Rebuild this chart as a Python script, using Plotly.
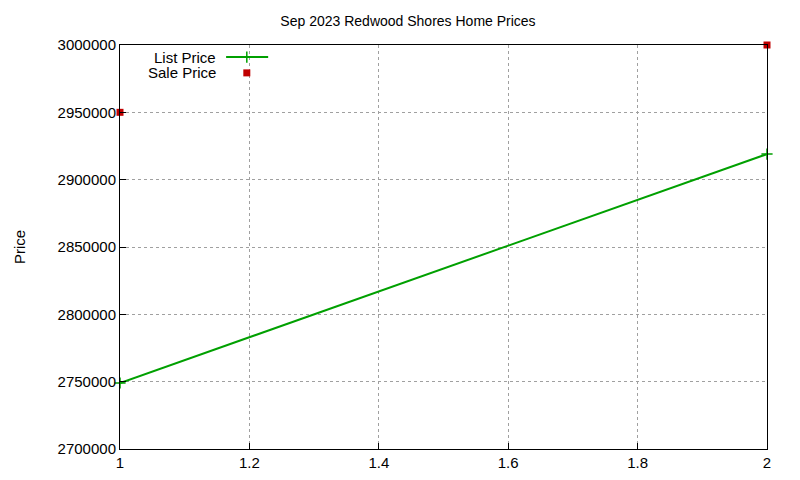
import plotly.graph_objects as go

x_vals = [1, 2]
list_price = [2749000, 2919000]
sale_price = [2950000, 3000000]
title = "Sep 2023 Redwood Shores Home Prices"

fig = go.Figure()
fig.add_trace(go.Scatter(x=x_vals, y=list_price, mode="lines+markers", name="List Price",
                         line=dict(color="#00a000", width=2),
                         marker=dict(symbol="cross-thin", size=8, line=dict(color="#00a000", width=1.5)),
                         cliponaxis=False, showlegend=False))
fig.add_trace(go.Scatter(x=x_vals, y=sale_price, mode="markers", name="Sale Price",
                         marker=dict(symbol="square", size=7, color="#c00000"),
                         cliponaxis=False, showlegend=False))

font = dict(family="Liberation Sans, Arial, sans-serif", size=15, color="black")
fig.add_annotation(x=0.151, y=0.970, xref="paper", yref="paper", text="List Price", showarrow=False,
                   xanchor="right", yanchor="middle", font=font)
fig.add_annotation(x=0.151, y=0.931, xref="paper", yref="paper", text="Sale Price", showarrow=False,
                   xanchor="right", yanchor="middle", font=font)
fig.add_shape(type="line", xref="paper", yref="paper", x0=0.164, x1=0.229, y0=0.970, y1=0.970,
              line=dict(color="#00a000", width=2))
fig.add_trace(go.Scatter(x=[0.196], y=[0.970], xaxis="x2", yaxis="y2", mode="markers",
                         marker=dict(symbol="cross-thin", size=8, line=dict(color="#00a000", width=1.5)),
                         showlegend=False, hoverinfo="skip"))
fig.add_trace(go.Scatter(x=[0.196], y=[0.931], xaxis="x2", yaxis="y2", mode="markers",
                         marker=dict(symbol="square", size=7, color="#c00000"),
                         showlegend=False, hoverinfo="skip"))

axis_common = dict(showline=True, linecolor="black", linewidth=1, mirror=True,
                   showgrid=True, gridcolor="#a0a0a0", griddash="dot", gridwidth=1,
                   ticks="inside", ticklen=6, tickcolor="black", zeroline=False, tickfont=font)
fig.update_layout(
    width=800, height=480, plot_bgcolor="white", paper_bgcolor="white",
    margin=dict(l=112, r=41, t=37, b=39),
    title=dict(text=title, x=0.5, xanchor="center", y=0.973, yanchor="middle",
               font=dict(family="Liberation Sans, Arial, sans-serif", size=14)),
    xaxis=dict(range=[1, 2], dtick=0.2, **axis_common),
    yaxis=dict(range=[2700000, 3000000], dtick=50000, tickformat="d",
               title=dict(text="Price", font=font, standoff=28), **axis_common),
    xaxis2=dict(range=[0, 1], overlaying="x", visible=False),
    yaxis2=dict(range=[0, 1], overlaying="y", visible=False),
    font=font,
)
fig.write_html("out.html")
